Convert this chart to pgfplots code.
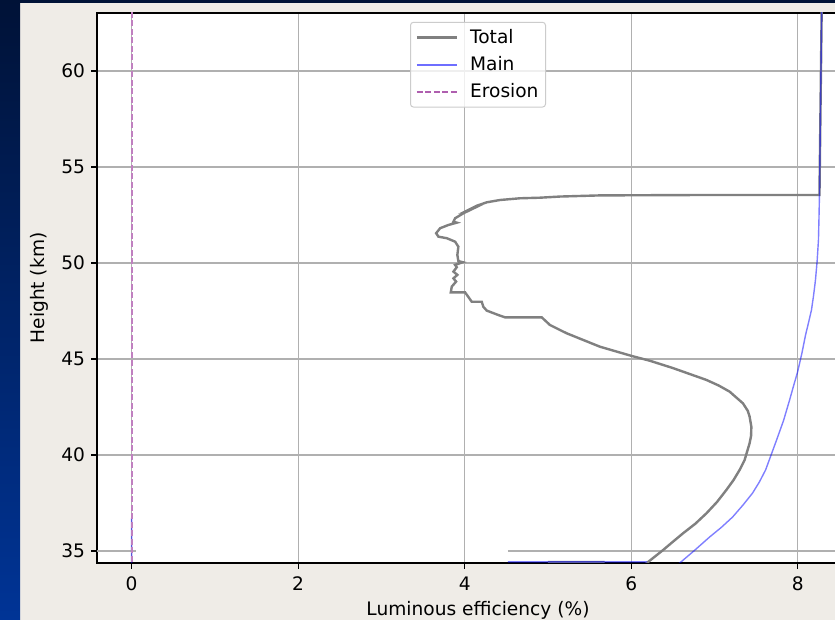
\documentclass[border=0pt]{standalone}
\usepackage{fontspec}
\setmainfont{DejaVu Sans}
\usepackage{pgfplots}
\pgfplotsset{compat=1.18}
\definecolor{bgc}{RGB}{239,236,231}
\definecolor{navtop}{RGB}{0,18,55}
\definecolor{navbot}{RGB}{0,52,150}
\definecolor{gridc}{RGB}{176,176,176}
\definecolor{legc}{RGB}{204,204,204}
\definecolor{erosc}{RGB}{192,128,192}
\definecolor{erosl}{RGB}{175,95,175}
\definecolor{totc}{RGB}{128,128,128}
\definecolor{mainc}{RGB}{110,110,255}
\newcommand{\fs}{\fontsize{18.6pt}{22pt}\selectfont}
\begin{document}
\fs
\begin{tikzpicture}
\useasboundingbox (0,0) rectangle (835pt,620pt);
\clip (0,0) rectangle (835pt,620pt);
\fill[bgc] (0,0) rectangle (835pt,620pt);
\shade[top color=navtop, bottom color=navbot] (0,0) rectangle (20pt,620pt);
\fill[navtop] (0,617pt) rectangle (835pt,620pt);
\begin{axis}[
  at={(97pt,57pt)}, anchor=south west,
  scale only axis, width=762pt, height=550pt,
  xmin=-0.416, xmax=8.736, ymin=34.375, ymax=63.02,
  xtick={0,2,4,6,8}, ytick={40,45,50,55,60},
  extra y ticks={35}, extra y tick style={grid=none},
  xmajorgrids, ymajorgrids,
  grid style={color=gridc, line width=1.3pt},
  tick pos=left, tick align=outside, major tick length=5.6pt,
  tick style={black, line width=1.3pt},
  axis line style={line width=1.3pt},
  axis background/.style={fill=white},
  /pgf/number format/assume math mode=true,
  ticklabel style={font=\fs},
  xticklabel style={yshift=-2pt},
  label style={font=\fs},
  xlabel={Luminous efficiency (\%)}, ylabel={Height (km)},
  xlabel style={yshift=2pt},
  ylabel style={yshift=-11pt},
  unbounded coords=jump,
  legend cell align=left,
  legend style={at={(0.5,0.984)}, anchor=north, draw=legc, rounded corners=3pt,
    fill=white, fill opacity=0.8, text opacity=1, line width=1pt,
    font=\fs, row sep=6pt, inner sep=5pt,
    /tikz/every odd column/.append style={column sep=10pt}},
]
\draw[gridc, line width=1.3pt] (axis cs:-0.416,35) -- (axis cs:0.05,35);
\draw[gridc, line width=1.3pt] (axis cs:4.52,35) -- (axis cs:8.736,35);
\addplot[totc, line width=2.4pt,
  legend image code/.code={\draw[draw=totc, draw opacity=1, line width=2.6pt, rounded corners=0pt] (0pt,0pt) -- (40pt,0pt);}] coordinates {
(8.29,64) (8.261,53.54) (6.823,53.54) (5.624,53.52) (5.144,53.46) (4.904,53.40)
(4.664,53.37) (4.424,53.28) (4.265,53.16) (4.145,52.98) (4.044,52.76) (4.09,52.81)
(3.985,52.59) (3.885,52.33) (3.865,52.15) (3.905,52.10) (3.805,51.98) (3.705,51.81)
(3.657,51.55) (3.685,51.37) (3.785,51.29) (3.885,51.11) (3.924,50.85) (3.912,50.42)
(3.924,50.10) (3.977,50.04) (3.885,49.90) (3.905,49.78) (3.865,49.55) (3.912,49.38)
(3.865,49.20) (3.897,49.03) (3.845,48.77) (3.833,48.47) (4.005,48.47) (4.085,47.98)
(4.205,47.98) (4.224,47.72) (4.265,47.52) (4.404,47.29) (4.484,47.17) (4.925,47.17)
(5.024,46.77) (5.224,46.34) (5.624,45.64) (6.004,45.16) (6.223,44.91) (6.499,44.53)
(6.903,43.91) (7.050,43.62) (7.182,43.30) (7.342,42.69) (7.400,42.30) (7.422,42.00) (7.443,41.47) (7.440,41.00) (7.422,40.61)
(7.362,39.74) (7.302,39.22) (7.230,38.70) (7.143,38.18) (7.030,37.55) (6.903,36.96) (6.770,36.42) (6.622,35.92) (6.500,35.48) (6.383,35.05)
(6.183,34.36) (6.10,34.0)
(nan,nan) (5.0,34.42) (5.68,34.42)
};
\addlegendentry{Total}
\addplot[blue, draw opacity=0.5, line width=1.4pt,
  legend image code/.code={\draw[draw=mainc, draw opacity=1, line width=1.8pt] (0pt,0pt) -- (40pt,0pt);}] coordinates {
(8.29,64) (8.261,53.54) (8.255,52.3) (8.249,51.20) (8.233,50.1) (8.213,49.11) (8.190,48.3) (8.165,47.55) (8.130,46.9) (8.094,46.25)
(8.050,45.3) (7.998,44.32) (7.950,43.6) (7.902,42.86) (7.830,41.8) (7.746,40.78) (7.680,40.0) (7.614,39.22) (7.540,38.6) (7.458,38.02) (7.340,37.38) (7.218,36.77)
(7.080,36.22) (6.942,35.73) (6.760,35.03) (6.583,34.375) (6.46,34.0)
(nan,nan) (4.52,34.43) (6.19,34.43)
(nan,nan) (0,34.0) (0,36.72)
};
\addlegendentry{Main}
\addplot[color=erosc, line width=1.8pt, dash pattern=on 5.9pt off 2.6pt,
  legend image code/.code={\draw[draw=erosl, draw opacity=1, line width=2pt, dash pattern=on 5.9pt off 2.6pt] (0pt,0pt) -- (40pt,0pt);}] coordinates {
(0,34.0) (0,64)
};
\addlegendentry{Erosion}
\end{axis}
\end{tikzpicture}
\end{document}
